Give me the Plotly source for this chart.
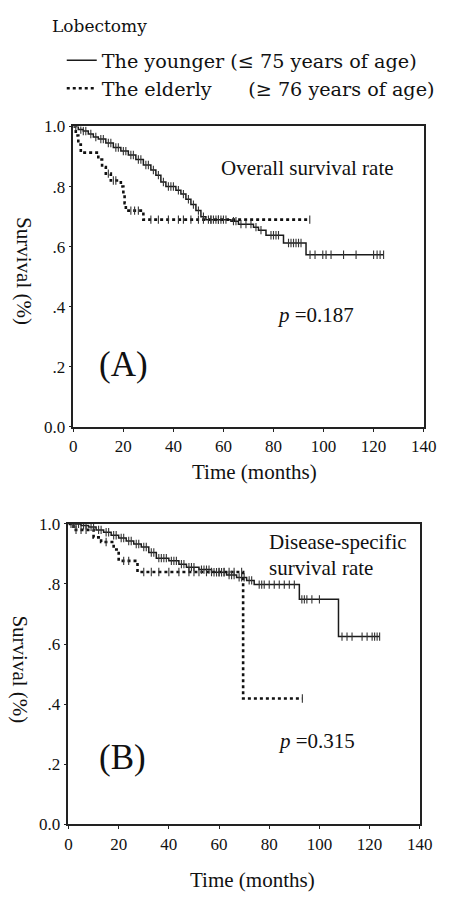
import plotly.graph_objects as go

# ---------------- data ----------------
# Panel A: overall survival, Kaplan-Meier step points (time in months, survival)
a_young_t = [0, 2, 4, 6, 8, 10, 13, 16, 19, 22, 25, 28, 31, 33, 35, 37, 41, 43, 45, 47, 49, 51, 53, 63, 66, 72, 74, 77, 84, 93, 124]
a_young_s = [1.0, 0.99, 0.985, 0.975, 0.965, 0.958, 0.945, 0.93, 0.918, 0.905, 0.89, 0.872, 0.855, 0.838, 0.815, 0.80, 0.788, 0.775, 0.758, 0.74, 0.72, 0.70, 0.69, 0.685, 0.675, 0.665, 0.655, 0.638, 0.612, 0.573, 0.573]
a_young_cens = [1, 3, 4, 5, 7, 9, 11, 12, 14, 15, 17, 18, 20, 21, 23, 24, 26, 27, 29, 30, 32, 34, 36, 38, 39, 40, 42, 44, 46, 48, 50, 52, 54, 55, 56, 57, 58, 59, 60, 61, 64, 65, 67, 69, 71, 73, 75, 79, 80, 81, 82, 86, 87, 88, 89, 90, 91, 94.6, 96.6, 99.7, 101, 103, 108, 113, 120, 121.4, 122.6, 124]

a_old_t = [0, 1, 2, 3, 10, 11.5, 13, 15, 19, 20, 20.5, 21, 28, 94.5]
a_old_s = [1.0, 0.97, 0.94, 0.913, 0.89, 0.865, 0.843, 0.82, 0.80, 0.772, 0.745, 0.72, 0.69, 0.69]
a_old_cens = [14, 16, 17, 23, 24.5, 26, 31, 34, 38, 42, 44, 47, 50, 52, 55, 58, 94.5]

# Panel B: disease-specific survival
b_young_t = [0, 5, 8, 11, 14, 17, 20, 23, 26, 29, 32, 35, 40, 44, 47, 52, 57, 63, 67, 71, 74, 92, 107.6, 124]
b_young_s = [1.0, 0.995, 0.99, 0.98, 0.972, 0.962, 0.953, 0.943, 0.933, 0.923, 0.905, 0.886, 0.877, 0.866, 0.856, 0.848, 0.839, 0.83, 0.822, 0.812, 0.798, 0.749, 0.625, 0.625]
b_young_cens = [1, 2, 3, 4, 6, 7, 9, 10, 12, 13, 15, 16, 18, 19, 21, 22, 24, 25, 27, 28, 30, 31, 33, 34, 36, 37, 38, 39, 41, 42, 43, 45, 46, 48, 49, 50, 53, 54, 55, 56, 58, 59, 60, 61, 62, 64, 65, 66, 68, 69, 70, 72, 73, 76, 77, 78, 80, 82, 84, 86, 88, 90, 93, 94, 95, 97, 100, 109, 111, 113, 117, 119, 121, 122, 123, 124]

b_old_t = [0, 2, 10, 13, 18, 20, 27.5, 69.6, 93.2]
b_old_s = [1.0, 0.98, 0.955, 0.94, 0.915, 0.877, 0.84, 0.419, 0.419]
b_old_cens = [3, 5, 7, 15, 22, 24, 30, 33, 36, 40, 44, 48, 50, 52, 55, 57, 60, 62, 64, 66, 69, 93.2]

x_ticks = [0, 20, 40, 60, 80, 100, 120, 140]
y_ticks = [0, 0.2, 0.4, 0.6, 0.8, 1.0]
y_ticktext = ["0.0", ".2", ".4", ".6", ".8", "1.0"]

name_young = "The younger (\u2264 75 years of age)"
name_old = "The elderly \u00a0\u00a0\u00a0\u00a0\u00a0(\u2265 76 years of age)"

# ---------------- layout helpers ----------------
W, H = 453, 900
def fx(p):
    return p / W
def fy(p):
    return 1 - p / H

def surv_at(t, times, surv):
    v = surv[0]
    for tt, ss in zip(times, surv):
        if tt <= t:
            v = ss
    return v

fig = go.Figure()

def add_panel(xa, ya, yt, ys, yc, ot, os_, oc, legend):
    fig.add_trace(go.Scatter(x=yt, y=ys, mode="lines", line_shape="hv",
                             line=dict(color="#1a1a1a", width=1.5),
                             name=name_young, showlegend=legend,
                             xaxis=xa, yaxis=ya))
    fig.add_trace(go.Scatter(x=ot, y=os_, mode="lines", line_shape="hv",
                             line=dict(color="#111", width=2.6, dash="3px,3px"),
                             name=name_old, showlegend=legend,
                             xaxis=xa, yaxis=ya))
    for ct, tt, ss in ((yc, yt, ys), (oc, ot, os_)):
        fig.add_trace(go.Scatter(x=ct, y=[surv_at(t, tt, ss) for t in ct], mode="markers",
                                 marker=dict(symbol="line-ns-open", size=6, color="#333",
                                             line=dict(color="#333", width=1.1)),
                                 showlegend=False, hoverinfo="skip", xaxis=xa, yaxis=ya))

add_panel("x", "y", a_young_t, a_young_s, a_young_cens, a_old_t, a_old_s, a_old_cens, True)
add_panel("x2", "y2", b_young_t, b_young_s, b_young_cens, b_old_t, b_old_s, b_old_cens, False)

tickfont = dict(family="Liberation Serif", size=17, color="#111")
lab = dict(family="Liberation Serif", size=21, color="#111")

ax_common = dict(showline=True, linecolor="#222", linewidth=1.5, mirror=True,
                 ticks="outside", ticklen=3, tickcolor="#222", showgrid=False,
                 zeroline=False, tickfont=tickfont)

fig.update_layout(
    width=W, height=H, margin=dict(l=0, r=0, t=0, b=0),
    paper_bgcolor="white", plot_bgcolor="white",
    xaxis=dict(domain=[fx(72), fx(436)], range=[0, 140], tickvals=x_ticks, anchor="y", **ax_common),
    yaxis=dict(domain=[fy(427), fy(120)], range=[0, 1], tickvals=y_ticks, ticktext=y_ticktext, anchor="x", **ax_common),
    xaxis2=dict(domain=[fx(67), fx(432)], range=[0, 140], tickvals=x_ticks, anchor="y2", **ax_common),
    yaxis2=dict(domain=[fy(833), fy(526)], range=[0, 1], tickvals=y_ticks, ticktext=y_ticktext, anchor="x2", **ax_common),
    showlegend=True,
    legend=dict(x=fx(60), y=fy(33), xanchor="left", yanchor="top",
                font=dict(family="DejaVu Serif", size=19.2, color="#111"),
                bgcolor="rgba(0,0,0,0)", tracegroupgap=0),
)

def ann(text, x, y, font, xanchor="center", textangle=0):
    fig.add_annotation(text=text, x=fx(x), y=fy(y), xref="paper", yref="paper",
                       showarrow=False, font=font, xanchor=xanchor, yanchor="middle",
                       textangle=textangle)

ann("Lobectomy", 48, 17, dict(family="DejaVu Serif", size=17, color="#111"), xanchor="left")
# panel A
ann("Overall survival rate", 223, 162, lab, xanchor="left")
ann("<i>p</i> =0.187", 282, 313, lab, xanchor="left")
ann("(A)", 97, 363, dict(family="Liberation Serif", size=35, color="#111"), xanchor="left")
ann("Survival (%)", 20, 268, lab, textangle=90)
ann("Time (months)", 260, 473, lab)
# panel B
ann("Disease-specific", 273, 545, lab, xanchor="left")
ann("survival rate", 273, 571, lab, xanchor="left")
ann("<i>p</i> =0.315", 283, 748, lab, xanchor="left")
ann("(B)", 97, 765, dict(family="Liberation Serif", size=35, color="#111"), xanchor="left")
ann("Survival (%)", 17, 675, lab, textangle=90)
ann("Time (months)", 258, 890, lab)

fig.write_html("out.html", config={"displayModeBar": False},
               post_script="document.body.style.margin='0';document.body.style.overflow='hidden';")
